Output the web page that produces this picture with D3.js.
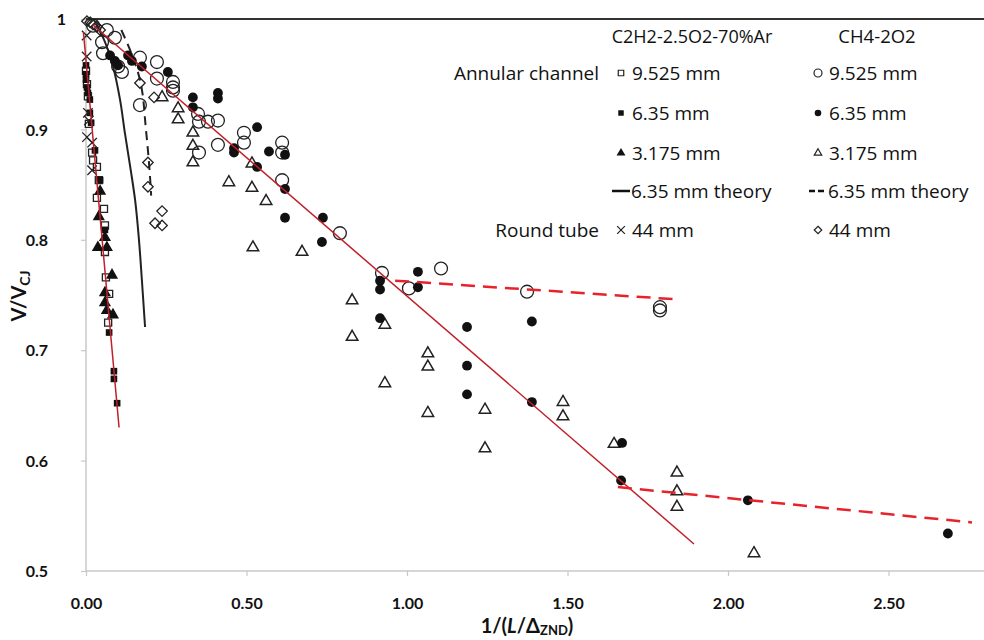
<!DOCTYPE html>
<html><head><meta charset="utf-8">
<script src="https://cdn.jsdelivr.net/npm/d3@7"></script>
<style>
html,body{margin:0;padding:0;background:#fff;}
svg{display:block;font-family:Lato,"Open Sans",sans-serif;}
</style></head><body>
<svg id="chart" width="984" height="640"></svg>
<script>
// ---------- DATA ----------
const xTicks = [0, 0.5, 1.0, 1.5, 2.0, 2.5];
const yTicks = [0.5, 0.6, 0.7, 0.8, 0.9, 1.0];
const yTickLabels = ["0.5", "0.6", "0.7", "0.8", "0.9", "1"];

// C2H2-2.5O2-70%Ar, annular channel
const c2h2_9525 = [[0.000,0.953],[0.003,0.941],[0.006,0.930],[0.009,0.905],[0.019,0.879],[0.022,0.872],[0.034,0.866],[0.040,0.854],[0.034,0.838],[0.056,0.828],[0.059,0.813],[0.059,0.789],[0.062,0.766],[0.072,0.751],[0.069,0.725]];
const c2h2_635 = [[0.000,0.958],[0.000,0.950],[0.000,0.945],[0.003,0.938],[0.006,0.933],[0.012,0.927],[0.012,0.915],[0.016,0.906],[0.028,0.881],[0.044,0.854],[0.059,0.809],[0.072,0.716],[0.087,0.681],[0.087,0.674],[0.097,0.652]];
const c2h2_3175 = [[0.044,0.844],[0.040,0.821],[0.059,0.802],[0.037,0.793],[0.065,0.793],[0.081,0.768],[0.059,0.752],[0.059,0.743],[0.065,0.736],[0.084,0.732]];
const c2h2_theory = [[0.03,0.996],[0.055,0.982],[0.084,0.957],[0.106,0.927],[0.121,0.897],[0.140,0.862],[0.153,0.836],[0.165,0.800],[0.174,0.764],[0.184,0.721]];
// Round tube C2H2 44 mm
const c2h2_44 = [[0.002,0.985],[0.002,0.966],[0.006,0.915],[0.009,0.908],[0.003,0.893],[0.019,0.888],[0.019,0.863]];

// CH4-2O2, annular channel
const ch4_9525 = [[0.022,0.994],[0.050,0.979],[0.053,0.969],[0.065,0.990],[0.090,0.983],[0.112,0.952],[0.100,0.957],[0.168,0.965],[0.168,0.922],[0.221,0.961],[0.221,0.946],[0.271,0.943],[0.271,0.938],[0.271,0.935],[0.349,0.914],[0.352,0.907],[0.380,0.907],[0.411,0.908],[0.411,0.886],[0.352,0.879],[0.492,0.897],[0.492,0.888],[0.611,0.888],[0.611,0.879],[0.611,0.854],[0.791,0.806],[0.922,0.770],[1.106,0.774],[1.006,0.756],[1.374,0.753],[1.788,0.739],[1.788,0.736]];
const ch4_635 = [[0.075,0.967],[0.090,0.962],[0.100,0.958],[0.131,0.967],[0.143,0.962],[0.174,0.957],[0.255,0.952],[0.333,0.929],[0.333,0.920],[0.411,0.933],[0.411,0.928],[0.461,0.883],[0.461,0.879],[0.533,0.902],[0.533,0.866],[0.570,0.880],[0.620,0.877],[0.620,0.846],[0.620,0.820],[0.738,0.820],[0.735,0.798],[0.916,0.763],[0.916,0.755],[0.916,0.729],[1.034,0.771],[1.034,0.757],[1.187,0.721],[1.187,0.686],[1.187,0.660],[1.389,0.726],[1.389,0.653],[1.670,0.616],[1.667,0.582],[2.062,0.564],[2.685,0.534]];
const ch4_3175 = [[0.237,0.929],[0.287,0.919],[0.287,0.909],[0.333,0.897],[0.333,0.885],[0.333,0.870],[0.517,0.869],[0.445,0.852],[0.517,0.847],[0.561,0.835],[0.520,0.793],[0.673,0.789],[0.829,0.745],[0.829,0.712],[0.931,0.723],[0.931,0.670],[1.065,0.697],[1.065,0.685],[1.065,0.643],[1.243,0.646],[1.243,0.611],[1.486,0.653],[1.486,0.640],[1.645,0.615],[1.841,0.589],[1.841,0.572],[1.841,0.558],[2.081,0.516]];
const ch4_theory = [[0.11,0.990],[0.14,0.970],[0.168,0.945],[0.187,0.899],[0.199,0.859],[0.203,0.840]];
// Round tube CH4 44 mm
const ch4_44 = [[0.003,0.998],[0.013,0.997],[0.022,0.995],[0.034,0.993],[0.044,0.990],[0.168,0.942],[0.212,0.929],[0.193,0.870],[0.193,0.848],[0.237,0.826],[0.215,0.815],[0.237,0.813]];

// red fit lines
const fitSteep = [[-0.008,0.988],[0.103,0.630]];
const fitMain = [[0.02,0.995],[1.894,0.5245]];
const fitDash1 = [[0.963,0.763],[1.844,0.746]];
const fitDash2 = [[1.657,0.576],[2.760,0.544]];

// ---------- CHART ----------
const svg = d3.select("#chart");
const x = d3.scaleLinear().domain([0, 2.8]).range([86, 984.8]);
const y = d3.scaleLinear().domain([0.5, 1.0]).range([571, 19]);

const axisCol = "#c8c8c8";
// x axis
const xAxis = svg.append("g").attr("transform", `translate(0,${y(0.5)})`)
  .call(d3.axisBottom(x).tickValues(xTicks).tickSize(5).tickFormat(d3.format(".2f")));
xAxis.select(".domain").attr("stroke", axisCol).attr("stroke-width", 1.5).attr("d", `M${x(0)},0H984`);
xAxis.selectAll(".tick line").attr("stroke", axisCol).attr("stroke-width", 1.2);
xAxis.selectAll(".tick text").attr("dy", "0").attr("y", 38)
  .attr("font-family", "Lato, sans-serif").attr("font-weight", "bold").attr("font-size", 16).attr("fill", "#111");

// y axis
const yAxis = svg.append("g").attr("transform", `translate(${x(0)},0)`)
  .call(d3.axisLeft(y).tickValues(yTicks).tickSize(5).tickFormat((d, i) => yTickLabels[i]));
yAxis.select(".domain").attr("stroke", axisCol).attr("stroke-width", 1.5).attr("d", `M0,${y(1)}V${y(0.5)}`);
yAxis.selectAll(".tick line").attr("stroke", axisCol).attr("stroke-width", 1.2);
yAxis.selectAll(".tick text").attr("x", d => d === 1 ? -20 : -38).attr("dy", "0.35em")
  .attr("font-family", "Lato, sans-serif").attr("font-weight", "bold").attr("font-size", 16).attr("fill", "#111");

// top line at 1.0
svg.append("line").attr("x1", x(0)).attr("x2", 984).attr("y1", y(1)).attr("y2", y(1))
  .attr("stroke", "#333").attr("stroke-width", 2);

// axis titles
const xt = svg.append("text").attr("x", 527).attr("y", 633).attr("text-anchor", "middle")
  .attr("font-family", "Lato, sans-serif").attr("font-weight", "bold").attr("font-size", 20).attr("fill", "#111");
xt.append("tspan").text("1/(");
xt.append("tspan").attr("font-style", "italic").text("L");
xt.append("tspan").text("/Δ");
xt.append("tspan").attr("font-size", 13).attr("dy", 2).text("ZND");
xt.append("tspan").attr("dy", -2).text(")");

const yt = svg.append("text").attr("transform", "translate(26,296) rotate(-90)").attr("text-anchor", "middle")
  .attr("font-family", "Lato, sans-serif").attr("font-weight", "bold").attr("font-size", 20).attr("fill", "#111");
yt.append("tspan").text("V/V");
yt.append("tspan").attr("font-size", 14).attr("dy", 4).text("CJ");

// plot helpers
const line = d3.line().x(d => x(d[0])).y(d => y(d[1]));
const lineC = d3.line().x(d => x(d[0])).y(d => y(d[1])).curve(d3.curveMonotoneY);

function marks(data, type, size, fill, stroke, sw, rot) {
  svg.append("g").selectAll("path").data(data).join("path")
    .attr("d", d3.symbol().type(type).size(size))
    .attr("transform", d => `translate(${x(d[0])},${y(d[1])})` + (rot ? ` rotate(${rot})` : ""))
    .attr("fill", fill).attr("stroke", stroke).attr("stroke-width", sw);
}

// theory curves
svg.append("path").datum(c2h2_theory).attr("d", lineC).attr("fill", "none").attr("stroke", "#222").attr("stroke-width", 2);
svg.append("path").datum(ch4_theory).attr("d", lineC).attr("fill", "none").attr("stroke", "#222").attr("stroke-width", 2).attr("stroke-dasharray", "9,6");

// markers
marks(ch4_9525, d3.symbolCircle, 130, "none", "#222", 1.3);
marks(ch4_3175, d3.symbolTriangle2, 95, "none", "#222", 1.5);
marks(ch4_44, d3.symbolDiamond2, 70, "none", "#222", 1.3);
marks(ch4_635, d3.symbolCircle, 76, "#111", "none", 0);
marks(c2h2_9525, d3.symbolSquare, 50, "#fff", "#222", 1.3);
marks(c2h2_635, d3.symbolSquare, 44, "#111", "none", 0);
marks(c2h2_3175, d3.symbolTriangle, 64, "#111", "none", 0);
marks(c2h2_44, d3.symbolTimes, 60, "none", "#222", 1.3);

// red fits
svg.append("path").datum(fitSteep).attr("d", line).attr("fill", "none").attr("stroke", "#c0202a").attr("stroke-width", 1.5);
svg.append("path").datum(fitMain).attr("d", line).attr("fill", "none").attr("stroke", "#c0202a").attr("stroke-width", 1.5);
svg.append("path").datum(fitDash1).attr("d", line).attr("fill", "none").attr("stroke", "#e8222a").attr("stroke-width", 2.5).attr("stroke-dasharray", "14,8");
svg.append("path").datum(fitDash2).attr("d", line).attr("fill", "none").attr("stroke", "#e8222a").attr("stroke-width", 2.5).attr("stroke-dasharray", "14,8");

// ---------- LEGEND ----------
const lg = svg.append("g").attr("font-family", "'Open Sans', sans-serif").attr("font-size", 19).attr("fill", "#111");
const rows = [73, 113, 153, 191, 230];
lg.append("text").attr("x", 692).attr("y", 37).attr("dy", "0.35em").attr("text-anchor", "middle").attr("font-size", 18).text("C2H2-2.5O2-70%Ar");
lg.append("text").attr("x", 877).attr("y", 37).attr("dy", "0.35em").attr("text-anchor", "middle").attr("font-size", 18.5).text("CH4-2O2");
lg.append("text").attr("x", 599).attr("y", rows[0]).attr("dy", "0.35em").attr("text-anchor", "end").text("Annular channel");
lg.append("text").attr("x", 599).attr("y", rows[4]).attr("dy", "0.35em").attr("text-anchor", "end").text("Round tube");

const leftItems = [
  {t: "9.525 mm", type: d3.symbolSquare, size: 30, fill: "#fff", stroke: "#222"},
  {t: "6.35 mm", type: d3.symbolSquare, size: 30, fill: "#111", stroke: "none"},
  {t: "3.175 mm", type: d3.symbolTriangle, size: 34, fill: "#111", stroke: "none"},
  {t: "6.35 mm theory", line: "solid"},
  {t: "44 mm", type: d3.symbolTimes, size: 40, fill: "none", stroke: "#222"}
];
const rightItems = [
  {t: "9.525 mm", type: d3.symbolCircle, size: 50, fill: "none", stroke: "#222"},
  {t: "6.35 mm", type: d3.symbolCircle, size: 34, fill: "#111", stroke: "none"},
  {t: "3.175 mm", type: d3.symbolTriangle2, size: 40, fill: "none", stroke: "#222"},
  {t: "6.35 mm theory", line: "dash"},
  {t: "44 mm", type: d3.symbolDiamond2, size: 36, fill: "none", stroke: "#222"}
];
function legendCol(items, sx, tx) {
  items.forEach((it, i) => {
    const yy = rows[i];
    if (it.line) {
      lg.append("line").attr("x1", sx - 9).attr("x2", sx + 9).attr("y1", yy).attr("y2", yy)
        .attr("stroke", "#111").attr("stroke-width", 2.5).attr("stroke-dasharray", it.line === "dash" ? "6,3" : null);
      lg.append("text").attr("x", tx - 1).attr("y", yy).attr("dy", "0.35em").text(it.t);
    } else {
      lg.append("path").attr("d", d3.symbol().type(it.type).size(it.size)())
        .attr("transform", `translate(${sx},${yy})`).attr("fill", it.fill).attr("stroke", it.stroke).attr("stroke-width", 1.2);
      lg.append("text").attr("x", tx).attr("y", yy).attr("dy", "0.35em").text(it.t);
    }
  });
}
legendCol(leftItems, 621, 632);
legendCol(rightItems, 818, 829);
</script>
</body></html>
